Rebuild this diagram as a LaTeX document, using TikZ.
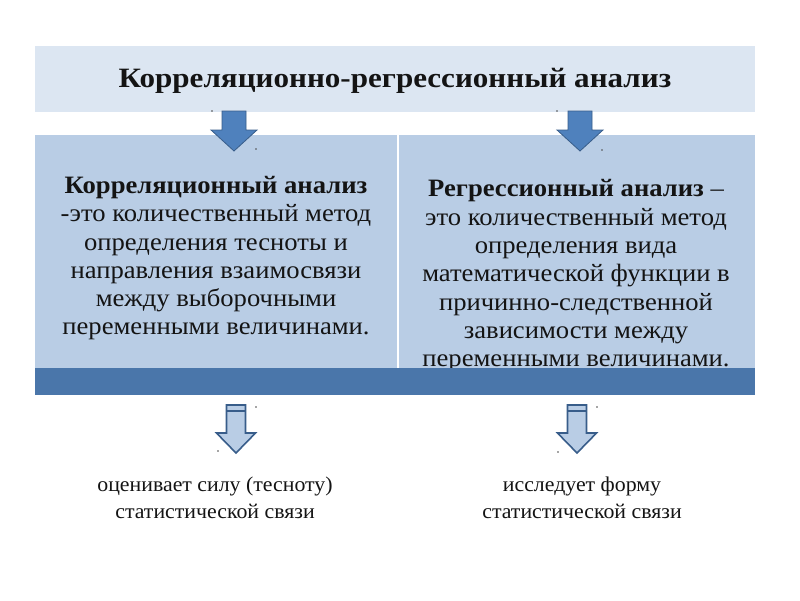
\documentclass[tikz,border=0pt]{standalone}
\usepackage{fontspec}
\setmainfont{Liberation Serif}
\newfontfamily\hdrfont[FakeStretch=1.11]{Liberation Serif}
\newfontfamily\cellfont[FakeStretch=1.065]{Liberation Serif}
\newfontfamily\lowfont[FakeStretch=1.04]{Liberation Serif}
\definecolor{hdrfill}{RGB}{220,230,242}
\definecolor{cellfill}{RGB}{185,205,229}
\definecolor{bandfill}{RGB}{74,118,170}
\definecolor{arrowfill}{RGB}{79,129,189}
\definecolor{arrowline}{RGB}{56,93,138}
\definecolor{txt}{RGB}{20,20,20}
\begin{document}
\begin{tikzpicture}[x=1pt,y=-1pt,
  hdrbox/.style={fill=hdrfill, draw=none, minimum width=720pt, minimum height=66pt, inner sep=0pt},
  hdrtext/.style={inner sep=0pt, font=\hdrfont\fontsize{28}{32}\selectfont\bfseries, text=txt},
  cellbox/.style={fill=cellfill, draw=none, inner sep=0pt},
  celltext/.style={align=center, inner sep=0pt, anchor=north, text=txt, font=\cellfont\fontsize{25}{28.3}\selectfont},
  lowtext/.style={align=center, inner sep=0pt, text=txt, font=\lowfont\fontsize{21}{27}\selectfont},
  dot/.style={fill=black!70, draw=none, circle, inner sep=0pt, minimum size=1.6pt},
  toparrow/.pic={\draw[draw=arrowline, fill=arrowfill, line width=0.8pt, line join=miter]
     (-12,0) -- (12,0) -- (12,19) -- (23,19) -- (0,40) -- (-23,19) -- (-12,19) -- cycle;},
  botarrow/.pic={\draw[draw=arrowline, fill=cellfill, line width=1.6pt, line join=miter]
     (-9.5,0) -- (9.5,0) -- (9.5,28) -- (19.5,28) -- (0,48) -- (-19.5,28) -- (-9.5,28) -- cycle;
     \draw[arrowline, line width=1.6pt] (-9.5,6) -- (9.5,6);}
]
\useasboundingbox (0,0) rectangle (800,600);
\fill[white] (0,0) rectangle (800,600);

\node[hdrbox] (hdr) at (395,79) {};
\node[hdrtext] (hdrt) at (395,81) {Корреляционно-регрессионный анализ};

\node[cellbox, minimum width=362pt, minimum height=233pt] (lc) at (216,251.5) {};
\node[cellbox, minimum width=356pt, minimum height=233pt] (rc) at (577,251.5) {};

\node[celltext] (lt) at (216,176) {\textbf{Корреляционный анализ}\\-это количественный метод\\определения тесноты и\\направления взаимосвязи\\между выборочными\\переменными величинами.};
\node[celltext] (rt) at (576,179.5) {\textbf{Регрессионный анализ} –\\это количественный метод\\определения вида\\математической функции в\\причинно-следственной\\зависимости между\\переменными величинами.};

\node[fill=bandfill, draw=none, inner sep=0pt, minimum width=720pt, minimum height=27pt] (band) at (395,381.5) {};

\coordinate (ta1) at (234,111);
\coordinate (ta2) at (580,111);
\pic at (ta1) {toparrow};
\pic at (ta2) {toparrow};

\coordinate (ba1) at (236,405);
\coordinate (ba2) at (577,405);
\pic at (ba1) {botarrow};
\pic at (ba2) {botarrow};

\node[dot] (d1) at (212,111) {};
\node[dot] (d2) at (256,149) {};
\node[dot] (d3) at (557,111) {};
\node[dot] (d4) at (602,150) {};
\node[dot] (d5) at (256,407) {};
\node[dot] (d6) at (218,451) {};
\node[dot] (d7) at (597,407) {};
\node[dot] (d8) at (558,452) {};

\node[lowtext] (lo) at (215,498) {оценивает силу (тесноту)\\статистической связи};
\node[lowtext] (ro) at (582,498) {исследует форму\\статистической связи};
\end{tikzpicture}
\end{document}
